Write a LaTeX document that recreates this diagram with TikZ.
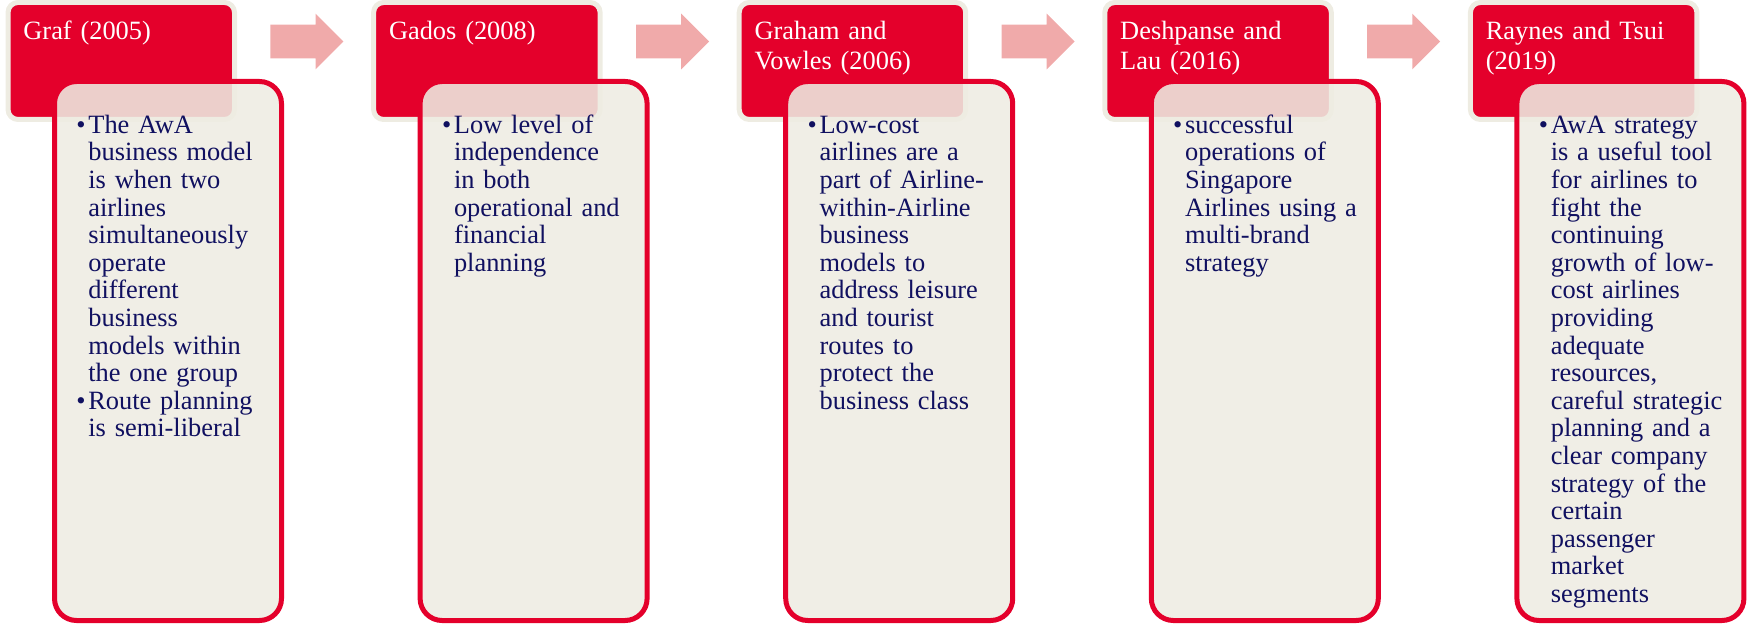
\documentclass[tikz,border=0pt]{standalone}
\usepackage{fontspec}
\setmainfont{Liberation Serif}
\usepackage{tikz}
\usetikzlibrary{shapes.arrows}
\definecolor{awared}{RGB}{228,0,43}
\definecolor{awabeige}{RGB}{238,236,226}
\definecolor{awapink}{RGB}{240,170,170}
\definecolor{awanavy}{RGB}{16,16,96}
\tikzstyle{yearbox}=[rectangle, rounded corners=5pt, fill=awared, draw=awabeige, line width=2.5pt, minimum width=113.25pt, minimum height=58.5pt]
\tikzstyle{notebox}=[rectangle, rounded corners=11pt, fill=awabeige, fill opacity=0.88, draw=awared, draw opacity=1, line width=2.5pt, minimum width=113.5pt, minimum height=269.5pt]
\tikzstyle{yeartext}=[anchor=north west, inner sep=0pt, text=white, text width=112pt, align=left, font=\fontsize{13.2}{15}\selectfont]
\tikzstyle{notetext}=[anchor=north west, inner sep=0pt, text=awanavy, text width=98pt, align=left, font=\fontsize{13.2}{13.8}\selectfont]
\tikzset{nextarrow/.style={single arrow, fill=awapink, inner xsep=0pt, inner ysep=8.25pt, minimum height=36.5pt, single arrow head extend=5.5pt, anchor=west}}
% bullet item with hanging indent, and a line break that keeps it
\newcommand\awaitem[1]{\par\hangindent=6pt\hangafter=1\noindent\strut\makebox[6pt][l]{\textbullet}#1\par}
\newcommand\awabreak{\unskip\hfil\break}

\begin{document}
\begin{tikzpicture}[x=0.5pt, y=-0.5pt]
		\useasboundingbox (0,0) rectangle (1748,624);
		% year headers
		\node[yearbox] (h1) at (121.25,61) {};
		\node[yearbox] (h2) at (486.85,61) {};
		\node[yearbox] (h3) at (852.45,61) {};
		\node[yearbox] (h4) at (1218.05,61) {};
		\node[yearbox] (h5) at (1583.65,61) {};
		% arrows between headers
		\node[nextarrow] (a1) at (270,41.5) {};
		\node[nextarrow] (a2) at (635.6,41.5) {};
		\node[nextarrow] (a3) at (1001.2,41.5) {};
		\node[nextarrow] (a4) at (1366.8,41.5) {};
		% note boxes, laid over the headers
		\node[notebox] (n1) at (168,351) {};
		\node[notebox] (n2) at (533.6,351) {};
		\node[notebox] (n3) at (899.2,351) {};
		\node[notebox] (n4) at (1264.8,351) {};
		\node[notebox] (n5) at (1630.4,351) {};
		% header texts
		\node[yeartext] (t1) at (23,18) {\strut Graf (2005)};
		\node[yeartext] (t2) at (388.6,18) {\strut Gados (2008)};
		\node[yeartext] (t3) at (754.2,18) {\strut Graham and\\Vowles (2006)};
		\node[yeartext] (t4) at (1119.8,18) {\strut Deshpanse and\\Lau (2016)};
		\node[yeartext] (t5) at (1485.4,18) {\strut Raynes and Tsui\\(2019)};
		% note texts
		\node[notetext] (b1) at (76,105.4) {\awaitem{The AwA\awabreak business model\awabreak is when two\awabreak airlines\awabreak simultaneously\awabreak operate\awabreak different\awabreak business\awabreak models within\awabreak the one group}
			\awaitem{Route planning\awabreak is semi-liberal}};
		\node[notetext] (b2) at (441.6,105.4) {\awaitem{Low level of\awabreak independence\awabreak in both\awabreak operational and\awabreak financial\awabreak planning}};
		\node[notetext] (b3) at (807.2,105.4) {\awaitem{Low-cost\awabreak airlines are a\awabreak part of Airline-\awabreak within-Airline\awabreak business\awabreak models to\awabreak address leisure\awabreak and tourist\awabreak routes to\awabreak protect the\awabreak business class}};
		\node[notetext] (b4) at (1172.8,105.4) {\awaitem{successful\awabreak operations of\awabreak Singapore\awabreak Airlines using a\awabreak multi-brand\awabreak strategy}};
		\node[notetext] (b5) at (1538.4,105.4) {\awaitem{AwA strategy\awabreak is a useful tool\awabreak for airlines to\awabreak fight the\awabreak continuing\awabreak growth of low-\awabreak cost airlines\awabreak providing\awabreak adequate\awabreak resources,\awabreak careful strategic\awabreak planning and a\awabreak clear company\awabreak strategy of the\awabreak certain\awabreak passenger\awabreak market\awabreak segments}};
\end{tikzpicture}
\end{document}
